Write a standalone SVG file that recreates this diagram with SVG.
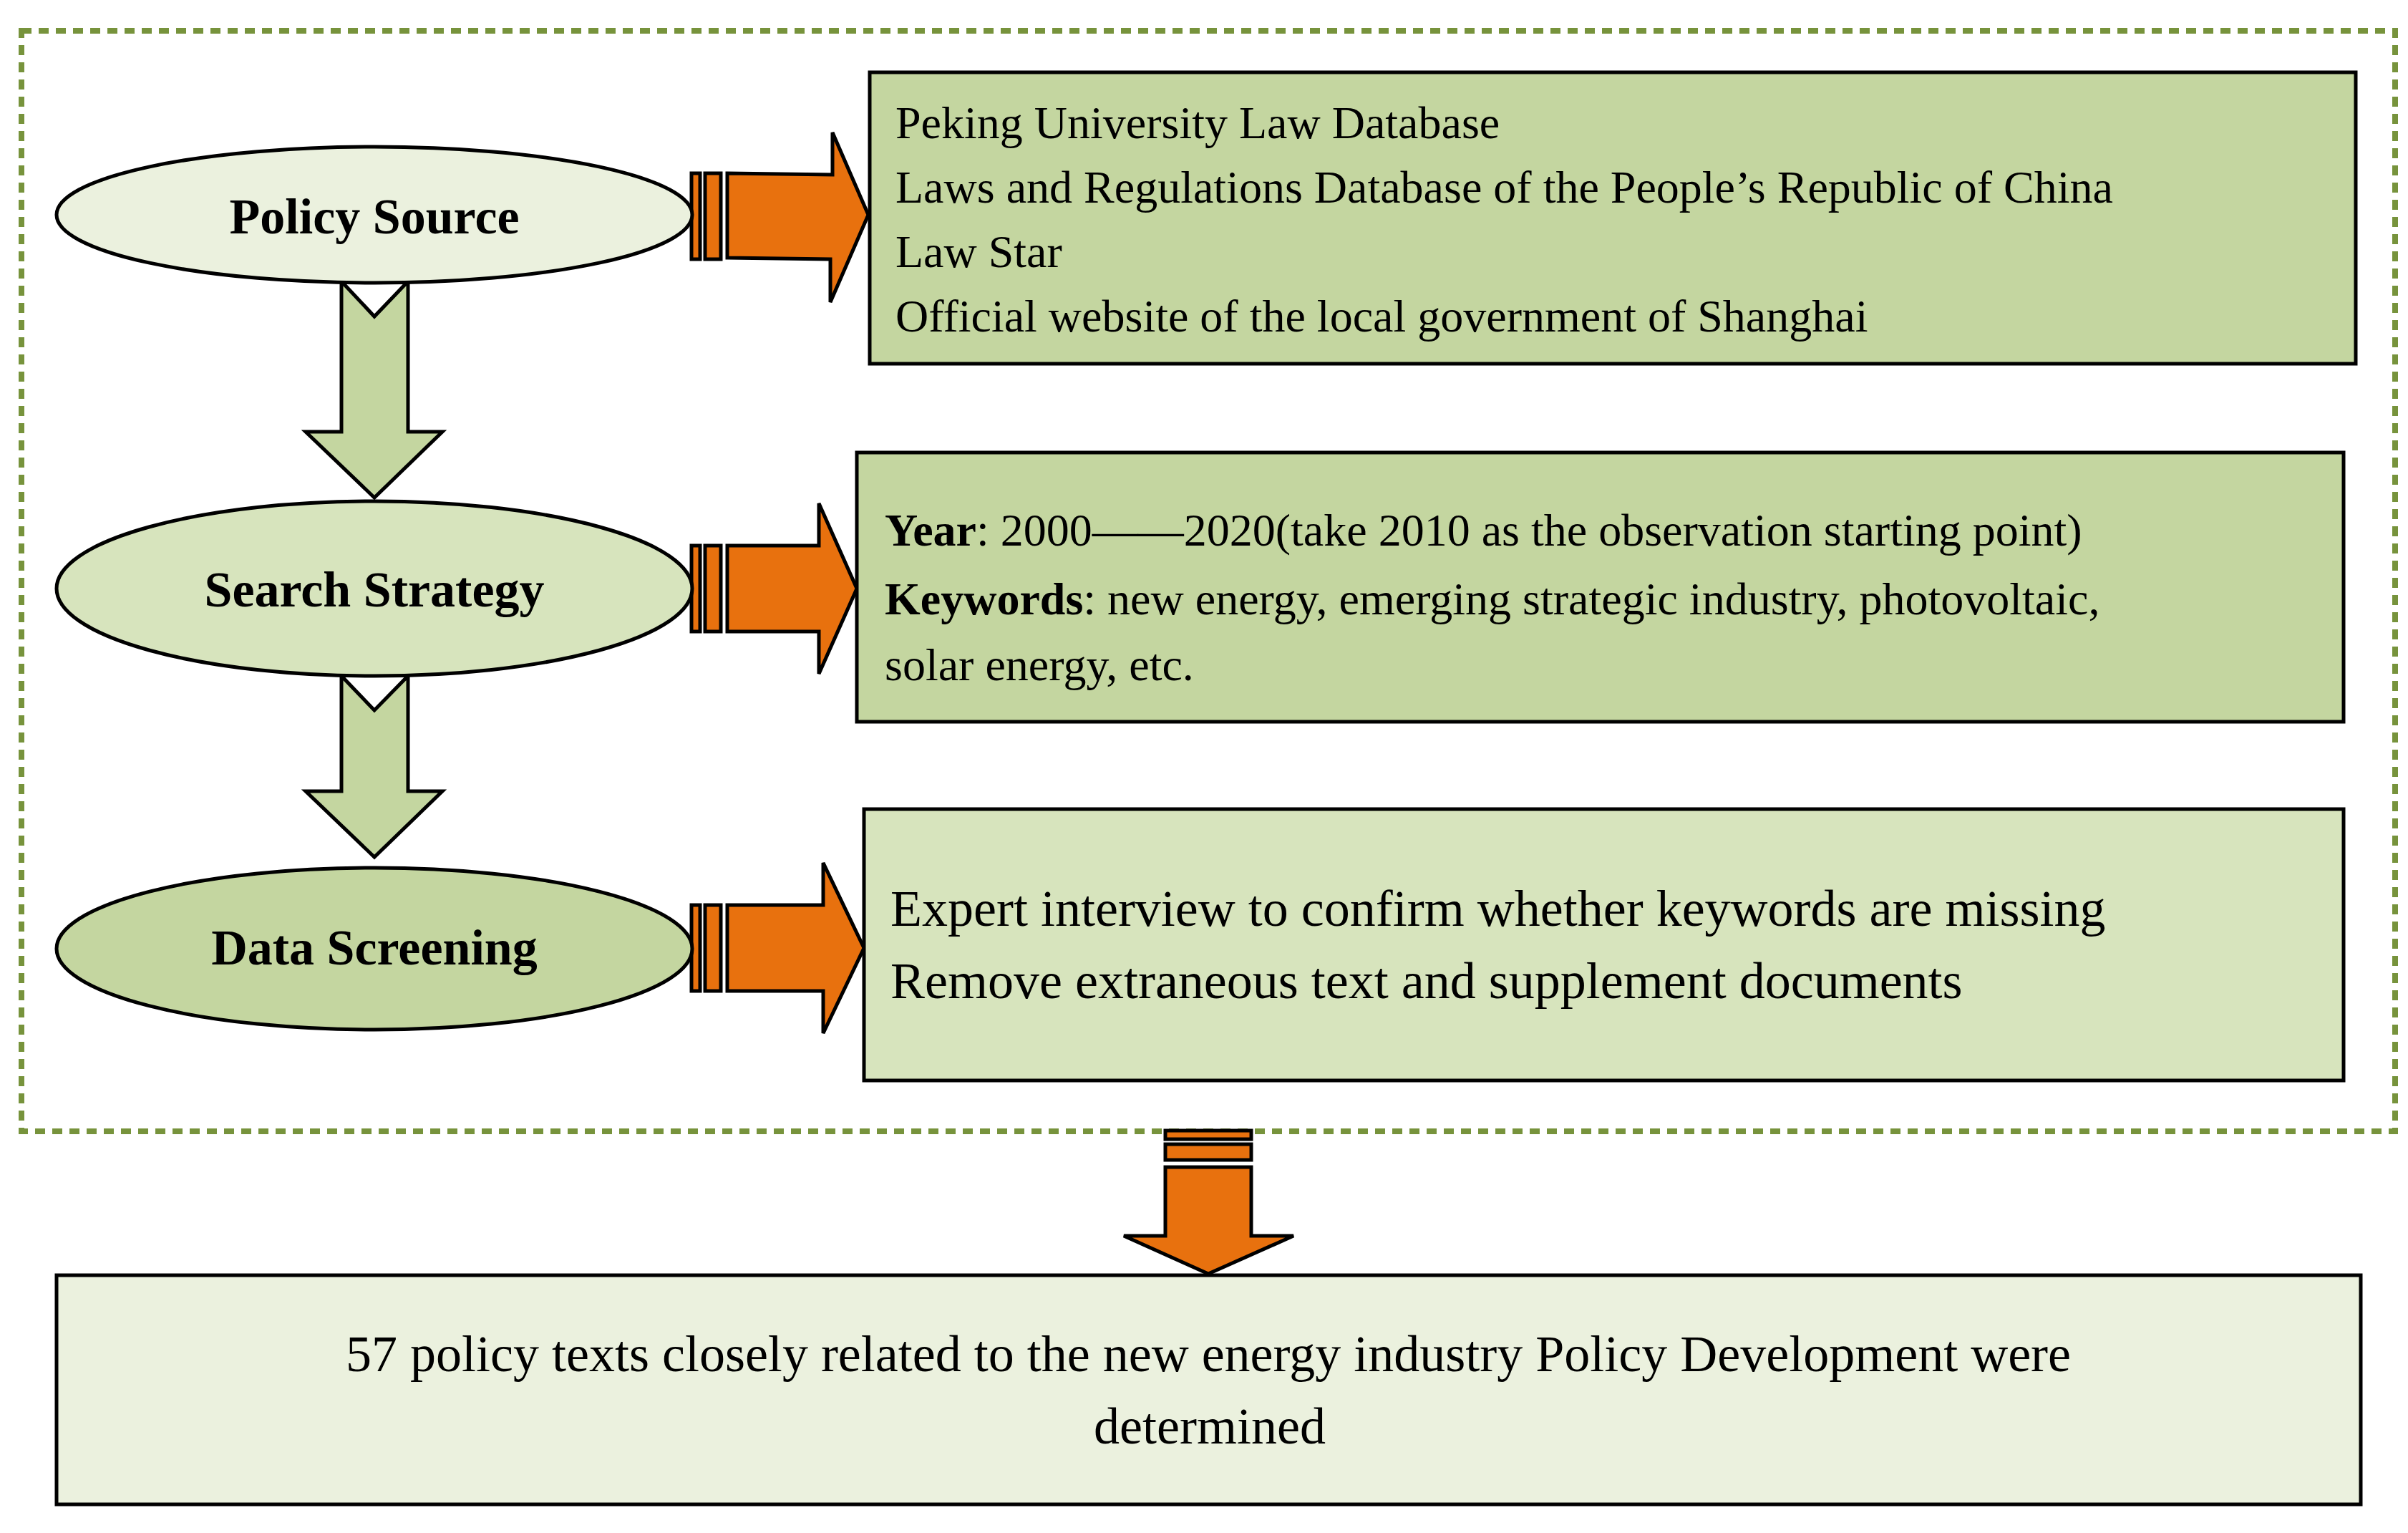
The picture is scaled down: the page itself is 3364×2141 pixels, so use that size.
<svg xmlns="http://www.w3.org/2000/svg" width="3364" height="2141" viewBox="0 0 3364 2141">
<style>
.st{stroke:#000;stroke-width:5}
.or{fill:#e8710e;stroke:#000;stroke-width:5}
.gr{fill:#c4d6a0;stroke:#000;stroke-width:5}
text{font-family:"Liberation Serif","Times New Roman",serif;fill:#000}
.lbl{font-size:70px;font-weight:bold;text-anchor:middle}
.t{font-size:64px}
.t2{font-size:72px}
</style>
<rect width="3364" height="2141" fill="#fff"/>
<rect x="30" y="43" width="3316" height="1537" fill="none" stroke="#77933c" stroke-width="8" stroke-dasharray="14,10"/>
<g id="connectors">
<path class="gr" d="M477,393 L523,442 L570,393 L570,603 L618,603 L523,695 L427,603 L477,603 Z"/>
<path class="gr" d="M477,944 L523,992 L570,944 L570,1105 L618,1105 L523,1197 L427,1105 L477,1105 Z"/>
<g><rect class="or" x="966" y="242" width="12" height="120"/><rect class="or" x="985" y="242" width="22" height="120"/><path class="or" d="M1016,242 L1163,244 L1163,185 L1213,300 L1160,422 L1160,362 L1016,360 Z"/></g>
<g><rect class="or" x="966" y="762" width="12" height="120"/><rect class="or" x="985" y="762" width="22" height="120"/><path class="or" d="M1016,762 L1144,762 L1144,703 L1197,822 L1144,941 L1144,882 L1016,882 Z"/></g>
<g><rect class="or" x="966" y="1264" width="12" height="120"/><rect class="or" x="985" y="1264" width="22" height="120"/><path class="or" d="M1016,1264 L1150,1264 L1150,1205 L1207,1324 L1150,1443 L1150,1384 L1016,1384 Z"/></g>
<g><rect class="or" x="1628" y="1579" width="120" height="12"/><rect class="or" x="1628" y="1598" width="120" height="22"/><path class="or" d="M1628,1630 L1748,1630 L1748,1726 L1807,1726 L1688,1779 L1570,1726 L1628,1726 Z"/></g>
</g>
<g id="policy-source"><ellipse class="st" cx="523" cy="300" rx="444" ry="95" fill="#ebf1de"/><text class="lbl" x="523" y="326">Policy Source</text></g>
<g id="search-strategy"><ellipse class="st" cx="523" cy="822" rx="444" ry="122" fill="#d7e4bd"/><text class="lbl" x="523" y="847">Search Strategy</text></g>
<g id="data-screening"><ellipse class="st" cx="523" cy="1325" rx="444" ry="113" fill="#c4d6a0"/><text class="lbl" x="523" y="1347">Data Screening</text></g>
<g id="sources-box"><rect class="st" x="1215" y="101" width="2076" height="407" fill="#c4d6a0"/>
<text class="t" x="1251" y="193">Peking University Law Database</text>
<text class="t" x="1251" y="283">Laws and Regulations Database of the People’s Republic of China</text>
<text class="t" x="1251" y="373">Law Star</text>
<text class="t" x="1251" y="463">Official website of the local government of Shanghai</text></g>
<g id="strategy-box"><rect class="st" x="1197" y="632" width="2077" height="376" fill="#c4d6a0"/>
<text class="t" x="1236" y="762"><tspan font-weight="bold">Year</tspan>: 2000——2020(take 2010 as the observation starting point)</text>
<text class="t" x="1236" y="858"><tspan font-weight="bold">Keywords</tspan>: new energy, emerging strategic industry, photovoltaic,</text>
<text class="t" x="1236" y="950">solar energy, etc.</text></g>
<g id="screening-box"><rect class="st" x="1207" y="1130" width="2067" height="379" fill="#d7e4bd"/>
<text class="t2" x="1244" y="1293">Expert interview to confirm whether keywords are missing</text>
<text class="t2" x="1244" y="1394">Remove extraneous text and supplement documents</text></g>
<g id="result-box"><rect class="st" x="79" y="1781" width="3219" height="320" fill="#ebf1de"/>
<text class="t2" x="1688" y="1915" text-anchor="middle">57 policy texts closely related to the new energy industry Policy Development were</text>
<text class="t2" x="1690" y="2016" text-anchor="middle">determined</text></g>
</svg>
